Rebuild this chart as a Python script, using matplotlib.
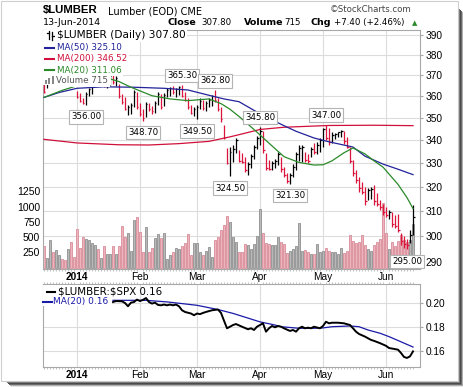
import numpy as np
import matplotlib
matplotlib.use('Agg')
import matplotlib.pyplot as plt
from matplotlib.patches import Rectangle
from matplotlib.lines import Line2D
from matplotlib.ticker import NullLocator
from matplotlib.transforms import blended_transform_factory

# daily bars, 16-Dec-2013 .. 13-Jun-2014 (trading days)
highs = [366.0, 367.0, 370.0, 372.0, 371.0, 373.0, 374.0, 372.0, 371.0, 370.5,
         369.0, 362.5, 361.5, 359.0, 362.0, 364.0, 366.0, 369.0, 370.0, 369.5,
         369.0, 368.0, 370.0, 371.0, 369.5, 366.0, 361.0, 359.5, 356.0, 357.0,
         363.0, 362.0, 357.0, 354.0, 357.5, 357.0, 355.5, 358.0, 362.0, 361.0,
         361.5, 364.0, 364.5, 365.0, 364.0, 365.0, 365.3, 362.0, 359.0, 356.0,
         355.0, 356.0, 359.0, 358.5, 358.0, 359.0, 360.5, 362.8, 359.0, 355.0,
         347.0, 336.5, 337.0, 337.9, 340.8, 335.5, 334.3, 332.8, 330.4, 334.0,
         338.0, 342.0, 345.8, 344.0, 334.3, 331.5, 331.0, 332.0, 335.0, 332.8,
         328.5, 326.0, 326.0, 329.5, 335.0, 338.0, 338.0, 335.0, 334.0, 337.0,
         338.7, 339.0, 341.0, 345.5, 347.0, 345.5, 343.8, 343.0, 343.8, 344.6,
         344.0, 341.5, 337.0, 331.5, 327.0, 324.0, 322.0, 320.0, 319.5, 320.0,
         320.7, 317.5, 314.5, 313.0, 311.5, 310.5, 309.7, 308.5, 309.0, 301.3,
         300.0, 299.0, 302.6, 312.5]
lows = [361.5, 364.0, 366.0, 367.0, 366.5, 368.0, 369.5, 367.0, 366.5, 366.0,
        365.5, 359.0, 357.5, 356.5, 356.0, 360.0, 361.0, 366.0, 366.5, 365.5,
        364.5, 364.0, 365.5, 366.0, 365.0, 359.0, 356.5, 353.5, 351.5, 352.0,
        355.0, 354.0, 351.0, 348.7, 350.5, 353.0, 352.0, 352.5, 356.0, 354.0,
        355.5, 359.5, 360.0, 361.0, 359.5, 360.5, 359.5, 358.0, 354.0, 352.0,
        351.0, 349.5, 354.0, 353.5, 353.0, 355.0, 355.5, 357.5, 353.0, 348.4,
        340.4, 329.5, 324.5, 330.4, 334.3, 330.4, 330.0, 326.4, 325.0, 328.0,
        332.0, 336.0, 338.0, 334.3, 327.2, 327.0, 327.0, 328.0, 329.3, 326.4,
        324.0, 321.5, 321.3, 324.0, 327.0, 331.0, 330.5, 330.5, 330.0, 332.5,
        334.0, 334.0, 335.0, 337.0, 340.0, 338.0, 338.7, 340.4, 341.6, 341.6,
        338.5, 336.5, 330.0, 324.5, 321.5, 318.0, 317.0, 312.5, 314.5, 315.0,
        312.5, 312.0, 310.5, 308.5, 307.7, 307.0, 303.7, 303.3, 301.7, 296.6,
        295.5, 295.0, 297.4, 300.5]
closes = [362.0, 366.0, 369.0, 368.0, 370.0, 372.0, 370.5, 369.0, 370.0, 367.0,
          366.0, 359.5, 358.0, 357.0, 361.0, 363.5, 365.5, 368.0, 367.0, 368.5,
          365.0, 367.5, 369.5, 367.0, 368.5, 360.0, 357.5, 354.0, 355.0, 356.0,
          362.0, 355.0, 352.0, 350.0, 356.5, 354.0, 353.0, 357.0, 361.0, 355.0,
          360.5, 363.0, 364.0, 362.0, 363.5, 364.5, 360.0, 358.5, 355.0, 352.5,
          354.0, 355.0, 358.0, 354.5, 357.0, 358.5, 360.0, 358.5, 354.0, 349.5,
          341.0, 330.0, 335.0, 336.0, 340.0, 331.0, 330.5, 327.0, 329.5, 333.0,
          337.0, 341.0, 344.0, 335.5, 328.0, 327.5, 330.0, 331.0, 334.0, 327.5,
          325.0, 322.5, 325.0, 328.5, 334.0, 336.5, 337.0, 331.5, 331.0, 336.0,
          335.0, 338.0, 340.0, 345.0, 341.0, 339.0, 342.5, 342.8, 343.5, 344.3,
          339.5, 337.0, 331.0, 326.0, 323.0, 319.5, 318.0, 314.0, 318.5, 319.0,
          314.0, 313.0, 311.5, 309.5, 308.5, 309.5, 305.0, 304.0, 302.5, 298.0,
          297.0, 296.5, 300.4, 307.8]
volumes = [350, 160, 450, 260, 290, 210, 150, 125, 300, 425,
           180, 640, 320, 500, 465, 450, 405, 370, 300, 155,
           360, 225, 225, 360, 225, 360, 675, 505, 560, 270,
           775, 825, 590, 260, 670, 255, 315, 490, 545, 490,
           560, 145, 205, 255, 315, 300, 360, 400, 545, 205,
           410, 400, 255, 205, 270, 340, 180, 460, 510, 620,
           700, 845, 740, 500, 420, 260, 250, 390, 380, 300,
           390, 520, 965, 560, 400, 390, 380, 370, 500, 420,
           390, 240, 280, 300, 350, 725, 270, 290, 250, 220,
           230, 390, 250, 270, 330, 280, 250, 260, 220, 330,
           240, 270, 530, 440, 400, 420, 530, 380, 310, 280,
           380, 420, 470, 1050, 560, 300, 420, 360, 440, 540,
           450, 420, 450, 715]

month_pos = [11, 32, 51, 72, 93, 114]
month_labels = ['2014', 'Feb', 'Mar', 'Apr', 'May', 'Jun']

ma50_idx = [0, 5, 11, 20, 30, 40, 48, 55, 60, 65, 70, 74, 80, 84, 90, 95, 103, 107, 113, 118, 123]
ma50_val = [359.5, 361.8, 363.8, 364.5, 364.3, 363.8, 363.0, 360.5, 358.8, 357.5, 353.5,
            350.5, 346.5, 344.0, 341.0, 339.3, 337.0, 333.0, 329.6, 327.4, 325.1]
ma200_idx = [0, 11, 25, 35, 45, 55, 62, 66, 72, 80, 95, 110, 123]
ma200_val = [340.4, 338.8, 338.0, 337.9, 338.5, 339.5, 341.5, 342.8, 344.8, 345.8, 346.6, 346.7, 346.52]
ma20_idx = [0, 6, 11, 18, 22, 25, 29, 33, 36, 42, 48, 55, 59, 62, 65, 70, 76, 80, 85, 90,
            93, 96, 100, 103, 107, 110, 113, 118, 121, 123]
ma20_val = [359.5, 362.8, 365.0, 367.5, 368.3, 367.0, 364.3, 362.0, 360.3, 358.8, 358.0,
            358.8, 356.6, 354.0, 350.7, 344.8, 337.5, 332.8, 330.3, 329.2, 329.3, 331.0,
            334.5, 336.6, 334.0, 331.0, 328.3, 321.0, 315.5, 311.06]

ratio_idx = [23, 24, 26, 27, 28, 29, 30, 31, 32, 33, 34, 35, 36, 37, 38, 39, 40, 41, 42, 43,
             44, 45, 46, 47, 49, 50, 51, 52, 53, 54, 56, 58, 59, 60, 61, 62, 63, 64, 66, 68,
             69, 70, 71, 72, 73, 74, 75, 76, 77, 78, 79, 80, 82, 83, 84, 85, 86, 87, 88, 89,
             90, 92, 93, 94, 95, 96, 98, 100, 102, 103, 104, 105, 107, 109, 110, 112, 114, 115,
             117, 118, 119, 120, 121, 122, 123]
ratio_val = [0.2004, 0.2012, 0.2010, 0.1996, 0.1969, 0.1999, 0.2004, 0.2024, 0.2012, 0.2022,
             0.2037, 0.2004, 0.1991, 0.1999, 0.1980, 0.1977, 0.1983, 0.1977, 0.1983, 0.1977,
             0.1983, 0.1969, 0.1936, 0.1922, 0.1909, 0.1895, 0.1909, 0.1904, 0.1914, 0.1922,
             0.1936, 0.1942, 0.1914, 0.1850, 0.1787, 0.1800, 0.1814, 0.1822, 0.1800, 0.1779,
             0.1787, 0.1773, 0.1800, 0.1814, 0.1828, 0.1759, 0.1787, 0.1806, 0.1795, 0.1806,
             0.1800, 0.1787, 0.1765, 0.1773, 0.1759, 0.1787, 0.1800, 0.1787, 0.1792, 0.1787,
             0.1800, 0.1787, 0.1806, 0.1841, 0.1828, 0.1833, 0.1833, 0.1828, 0.1814, 0.1787,
             0.1759, 0.1740, 0.1718, 0.1691, 0.1683, 0.1664, 0.1642, 0.1624, 0.1615, 0.1610,
             0.1583, 0.1550, 0.1542, 0.1555, 0.1596]
rma_idx = [23, 34, 41, 51, 58, 63, 72, 77, 79, 85, 90, 93, 96, 102, 105, 108, 112, 115, 118, 123]
rma_val = [0.2018, 0.2018, 0.2005, 0.1977, 0.1942, 0.1910, 0.1840, 0.1814, 0.1800, 0.1787,
           0.1787, 0.1790, 0.1800, 0.1806, 0.1800, 0.1773, 0.1746, 0.1718, 0.1686, 0.1632]

price_ticks = [290, 300, 310, 320, 330, 340, 350, 360, 370, 380, 390]
vol_ticks = [250, 500, 750, 1000, 1250]
ratio_ticks = [0.16, 0.18, 0.20]

low_marks = [(14, 356.00), (33, 348.70), (51, 349.50), (62, 324.50), (82, 321.30), (121, 295.00)]
high_marks = [(46, 365.30), (57, 362.80), (72, 345.80), (94, 347.00)]

W, H = 464, 387
GRID = '#dcdcdc'
FRAME = '#a8a8a8'
RED = '#dc143c'


def rect(l, t, r, b):
    return [l / W, 1 - b / H, (r - l) / W, (b - t) / H]


def fx(x):
    return x / W


def fy(y):
    return 1 - y / H


fig = plt.figure(figsize=(W / 100, H / 100), dpi=100)
fig.patch.set_facecolor('white')

x = np.arange(len(closes))
up = [i > 0 and closes[i] >= closes[i - 1] for i in range(len(closes))]
bar_col = ['black' if u else RED for u in up]
vfill = ['#b9b9b9' if u else '#ecb4bc' for u in up]
vedge = ['#8f8f8f' if u else '#d98c99' for u in up]
xlim = (-0.33, 125.33)

# volume underneath, price on top
ax_vol = fig.add_axes(rect(43, 30, 420, 269))
ax = fig.add_axes(rect(43, 30, 420, 269))
ax.patch.set_visible(False)

ax.set_yscale('log')
ax.set_ylim(287.5, 392.5)
ax.set_xlim(*xlim)
ax_vol.set_xlim(*xlim)
ax_vol.set_ylim(-20, 3884)

trans = blended_transform_factory(ax_vol.transAxes, ax.transData)
for p in price_ticks:
    ax_vol.add_line(Line2D([0, 1], [p, p], transform=trans, color=GRID, lw=0.8, zorder=1))
for m in month_pos:
    ax_vol.axvline(m, color=GRID, lw=0.8, zorder=1)

ax_vol.bar(x, volumes, width=0.8, color=vfill, edgecolor=vedge, linewidth=0.6, zorder=2)
ax_vol.set_yticks(vol_ticks)
ax_vol.set_yticklabels([str(v) for v in vol_ticks], fontfamily='Liberation Sans', fontsize=7.5)
ax_vol.tick_params(axis='y', length=0, pad=2)
ax_vol.tick_params(axis='x', bottom=False, labelbottom=False)
for s in ax_vol.spines.values():
    s.set_visible(False)

ax.vlines(x, lows, highs, colors=bar_col, lw=0.9, zorder=3)
ax.hlines(closes, x, x + 0.5, colors=bar_col, lw=0.9, zorder=3)

ax.plot(ma200_idx, ma200_val, color='#d0103a', lw=0.9, zorder=4)
ax.plot(ma50_idx, ma50_val, color='#22229a', lw=0.9, zorder=4)
ax.plot(ma20_idx, ma20_val, color='#2a8a2a', lw=0.9, zorder=4)

ax.yaxis.tick_right()
ax.set_yticks(price_ticks)
ax.set_yticklabels([str(p) for p in price_ticks], fontfamily='Liberation Sans', fontsize=7.3)
ax.yaxis.set_minor_locator(NullLocator())
ax.tick_params(axis='y', length=2, color=FRAME, pad=2)
ax.set_xticks(month_pos)
ax.set_xticklabels(month_labels, fontfamily='Liberation Sans', fontsize=7.3)
ax.get_xticklabels()[0].set_fontweight('bold')
ax.set_xticks(x, minor=True)
ax.tick_params(axis='x', which='major', length=0, pad=2)
ax.tick_params(axis='x', which='minor', length=1.5, width=0.5, color=FRAME)
for s in ax.spines.values():
    s.set_color(FRAME)
    s.set_linewidth(0.8)

box = dict(boxstyle='square,pad=0.25', fc='white', ec='#b4b4b4', lw=0.8)
for i, v in low_marks:
    ax.annotate(f'{v:.2f}', xy=(i, v), xytext=(0, -12), textcoords='offset pixels',
                ha='center', va='center', fontsize=6.2, bbox=box, zorder=6)
for i, v in high_marks:
    ax.annotate(f'{v:.2f}', xy=(i, v), xytext=(0, 9.5), textcoords='offset pixels',
                ha='center', va='center', fontsize=6.2, bbox=box, zorder=6)

# lower panel: ratio to S&P 500
ax2 = fig.add_axes(rect(43, 284, 420, 367))
for m in month_pos:
    ax2.axvline(m, color=GRID, lw=0.8, zorder=1)
for r in ratio_ticks:
    ax2.axhline(r, color=GRID, lw=0.8, zorder=1)
ax2.plot(rma_idx, rma_val, color='#1a1aa8', lw=0.9, zorder=3)
ax2.plot(ratio_idx, ratio_val, color='black', lw=1.4, zorder=4)
ax2.set_xlim(*xlim)
ax2.set_ylim(0.1467, 0.2153)
ax2.yaxis.tick_right()
ax2.set_yticks(ratio_ticks)
ax2.set_yticklabels([f'{r:.2f}' for r in ratio_ticks], fontfamily='Liberation Sans', fontsize=7.3)
ax2.tick_params(axis='y', length=2, color=FRAME, pad=2)
ax2.set_xticks(month_pos)
ax2.set_xticklabels(month_labels, fontfamily='Liberation Sans', fontsize=7.3)
ax2.get_xticklabels()[0].set_fontweight('bold')
ax2.set_xticks(x, minor=True)
ax2.tick_params(axis='x', which='major', length=0, pad=2)
ax2.tick_params(axis='x', which='minor', length=1.5, width=0.5, color=FRAME, top=True)
for s in ax2.spines.values():
    s.set_color(FRAME)
    s.set_linewidth(0.8)

# legends drawn as text over white patches
fig.add_artist(Rectangle((fx(43.5), fy(85)), fx(111 - 43.5), 55 / H, transform=fig.transFigure,
                         fc='white', ec='none', zorder=2))
fig.add_artist(Rectangle((fx(43.5), fy(306)), fx(112 - 43.5), 21.5 / H, transform=fig.transFigure,
                         fc='white', ec='none', zorder=2))
wb = dict(fc='white', ec='none', pad=1.2)
fig.text(fx(57), fy(35.5), r'\$LUMBER (Daily) 307.80', fontsize=7.6, va='center', bbox=wb, zorder=3)
fig.add_artist(Line2D([fx(49), fx(49)], [fy(31), fy(39)], color='black', lw=0.9, zorder=3))
fig.add_artist(Line2D([fx(47), fx(49)], [fy(33), fy(33)], color='black', lw=0.9, zorder=3))
fig.add_artist(Line2D([fx(52), fx(52)], [fy(32), fy(40)], color='black', lw=0.9, zorder=3))
fig.add_artist(Line2D([fx(52), fx(54)], [fy(36), fy(36)], color='black', lw=0.9, zorder=3))
rows = [('MA(50) 325.10', '#22229a', 47.5), ('MA(200) 346.52', '#d0103a', 59),
        ('MA(20) 311.06', '#2a8a2a', 70)]
for label, col, yy in rows:
    fig.add_artist(Line2D([fx(45), fx(55)], [fy(yy), fy(yy)], color=col, lw=1.5, zorder=3))
    fig.text(fx(57), fy(yy), label, color=col, fontsize=6.3, va='center', bbox=wb, zorder=3)
for k, hgt in enumerate([4, 6, 8]):
    fig.add_artist(Rectangle((fx(45.5 + 3 * k), fy(84)), 2 / W, hgt / H, transform=fig.transFigure,
                             fc='#888888', ec='none', zorder=3))
fig.text(fx(56), fy(80.5), 'Volume 715', color='#555555', fontsize=6.3, va='center', bbox=wb, zorder=3)

fig.add_artist(Line2D([fx(47), fx(55)], [fy(291.5), fy(291.5)], color='black', lw=1.5, zorder=3))
fig.text(fx(58), fy(291.5), r'\$LUMBER:\$SPX 0.16', fontsize=7.4, va='center', zorder=3)
fig.add_artist(Line2D([fx(43.5), fx(52)], [fy(301.5), fy(301.5)], color='#1a1aa8', lw=1.5, zorder=3))
fig.text(fx(53), fy(301.5), 'MA(20) 0.16', color='#1a1aa8', fontsize=6.5, va='center', zorder=3)

# header
fig.text(fx(42.5), fy(10.5), r'\$LUMBER', fontfamily='Liberation Sans', fontweight='bold', fontsize=8.2, va='center')
fig.text(fx(108), fy(11), 'Lumber (EOD) CME', fontsize=7.0, va='center')
fig.text(fx(330), fy(10), '\u00a9StockCharts.com', fontsize=6.2, va='center', color='#444444')
fig.text(fx(43), fy(22.5), '13-Jun-2014', fontsize=6.8, va='center')
fig.text(fx(167.5), fy(22.5), 'Close', fontsize=6.8, fontweight='bold', va='center')
fig.text(fx(201), fy(22.5), '307.80', fontsize=6.2, va='center')
fig.text(fx(243.5), fy(22.5), 'Volume', fontsize=6.8, fontweight='bold', va='center')
fig.text(fx(284), fy(22.5), '715', fontsize=6.2, va='center')
fig.text(fx(311), fy(22.5), 'Chg', fontsize=6.8, fontweight='bold', va='center')
fig.text(fx(334), fy(22.5), '+7.40 (+2.46%)', fontsize=6.2, va='center')
fig.text(fx(411.5), fy(23), '\u25b2', fontsize=5, va='center', color='#2a8a2a')

# frame and drop shadow
fig.add_artist(Rectangle((fx(0.5), fy(381)), fx(457.5), 380.5 / H, transform=fig.transFigure,
                         fill=False, ec='#cfcfcf', lw=0.8, zorder=1))
for off, col in [(0, '#c8c8c8'), (1, '#7a7a7a'), (2, '#4a4a4a'), (3, '#6a6a6a'), (4, '#b0b0b0'), (5, '#e4e4e4')]:
    fig.add_artist(Rectangle((fx(458 + off), fy(381 + off)), 1 / W, (373) / H, transform=fig.transFigure,
                             fc=col, ec='none', zorder=1))
    fig.add_artist(Rectangle((fx(6 + off), fy(382 + off)), fx(453), 1 / H, transform=fig.transFigure,
                             fc=col, ec='none', zorder=1))

fig.savefig('out.png', dpi=100)
